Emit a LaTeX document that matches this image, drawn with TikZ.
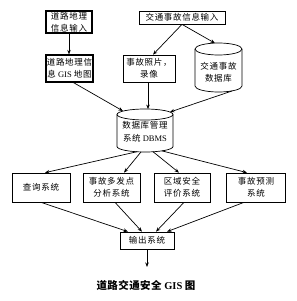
\documentclass[tikz,border=0pt]{standalone}
\usepackage{fontspec}
\setmainfont{Liberation Serif}
\newfontfamily\cjk[LetterSpace=8]{Noto Sans CJK SC}
\newfontfamily\cjkb[LetterSpace=4]{Noto Sans CJK SC Bold}
\usetikzlibrary{arrows.meta,calc}
\tikzset{
  box/.style={draw, line width=0.7pt, inner sep=0pt, align=center,
    font=\fontsize{8.5}{12}\selectfont},
  thickbox/.style={box, line width=1.2pt},
  cyl/.style={draw, line width=0.7pt},
  cyltext/.style={inner sep=0pt, align=center, font=\fontsize{8.5}{12.5}\selectfont},
  arr/.style={line width=0.7pt, -{Stealth[length=4.5pt,width=3.5pt]}},
}
\begin{document}
\begin{tikzpicture}[x=1pt,y=1pt]
\useasboundingbox (0,0) rectangle (297,301);
% top row
\node[thickbox, minimum width=46pt, minimum height=22pt] (A) at (69,279)
  {{\cjk 道路地理}\\{\cjk 信息输入}};
\node[thickbox, minimum width=47pt, minimum height=27pt] (B) at (69.5,232.5)
  {{\cjk 道路地理信}\\{\cjk 息} GIS {\cjk 地图}};
\node[box, minimum width=86pt, minimum height=13pt] (C) at (182,283.5)
  {{\cjk 交通事故信息输入}};
\node[box, minimum width=52pt, minimum height=27pt] (D) at (149,232.5)
  {{\cjk 事故照片，}\\{\cjk 录像}};
% cylinder E
\draw[cyl] (195,252) -- (195,215) arc[start angle=180,end angle=360,x radius=23.5,y radius=6] -- (242,252);
\draw[cyl] (218.5,252) ellipse[x radius=23.5, y radius=6];
\node[cyltext] (E) at (218.5,228.5) {{\cjk 交通事故}\\{\cjk 数据库}};
\coordinate (Etop) at (215,257.8);
\coordinate (Ebot) at (232,210);
% cylinder F
\draw[cyl] (117,186.5) -- (117,154.5) arc[start angle=180,end angle=360,x radius=28,y radius=5.5] -- (173,186.5);
\draw[cyl] (145,186.5) ellipse[x radius=28, y radius=5.5];
\node[cyltext] (F) at (145,169.5) {{\cjk 数据库管理}\\{\cjk 系统} DBMS};
\coordinate (Ftl) at (123,190);
\coordinate (Ftop) at (148,191.9);
\coordinate (Ftr) at (170,189);
\coordinate (Fb1) at (137,149.3);
\coordinate (Fb2) at (141,149.1);
\coordinate (Fb3) at (153,149.3);
\coordinate (Fb4) at (162,150.1);
% second row
\node[box, minimum width=58pt, minimum height=29pt] (G1) at (41,113.5) {{\cjk 查询系统}};
\node[box, minimum width=57pt, minimum height=29pt] (G2) at (111.5,113.5) {{\cjk 事故多发点}\\{\cjk 分析系统}};
\node[box, minimum width=56pt, minimum height=29pt] (G3) at (182,113.5) {{\cjk 区域安全}\\{\cjk 评价系统}};
\node[box, minimum width=59pt, minimum height=29pt] (G4) at (256,113.5) {{\cjk 事故预测}\\{\cjk 系统}};
% output
\node[box, minimum width=54pt, minimum height=17pt] (H) at (147,60.5) {{\cjk 输出系统}};
\coordinate (Hout) at (147,34);
% title
\node[inner sep=0pt, font=\fontsize{10.5}{12}\selectfont\bfseries] (T) at (146,16) {{\cjkb 道路交通安全} GIS {\cjkb 图}};
% connectors
\draw[arr] (A.south) -- (A.south |- B.north);
\draw[arr] ($(B.south)+(4,0)$) -- (Ftl);
\draw[arr] (C.south) -- ($(D.north)+(4,0)$);
\draw[arr] (C.south) -- (Etop);
\draw[arr] (D.south -| Ftop) -- (Ftop);
\draw[arr] (Ebot) -- (Ftr);
\draw[arr] (Fb1) -- ($(G1.north)+(4,0)$);
\draw[arr] (Fb2) -- ($(G2.north)+(12.5,0)$);
\draw[arr] (Fb3) -- ($(G3.north)+(-3,0)$);
\draw[arr] (Fb4) -- ($(G4.north)+(-9,0)$);
\draw[arr] (G1.south) -- ($(H.north)+(-19,0)$);
\draw[arr] ($(G2.south)+(3.5,0)$) -- ($(H.north)+(-5,0)$);
\draw[arr] ($(G3.south)+(2,0)$) -- ($(H.north)+(9,0)$);
\draw[arr] ($(G4.south)+(-12,0)$) -- ($(H.north)+(20,0)$);
\draw[arr] (H.south) -- (Hout);
\end{tikzpicture}
\end{document}
